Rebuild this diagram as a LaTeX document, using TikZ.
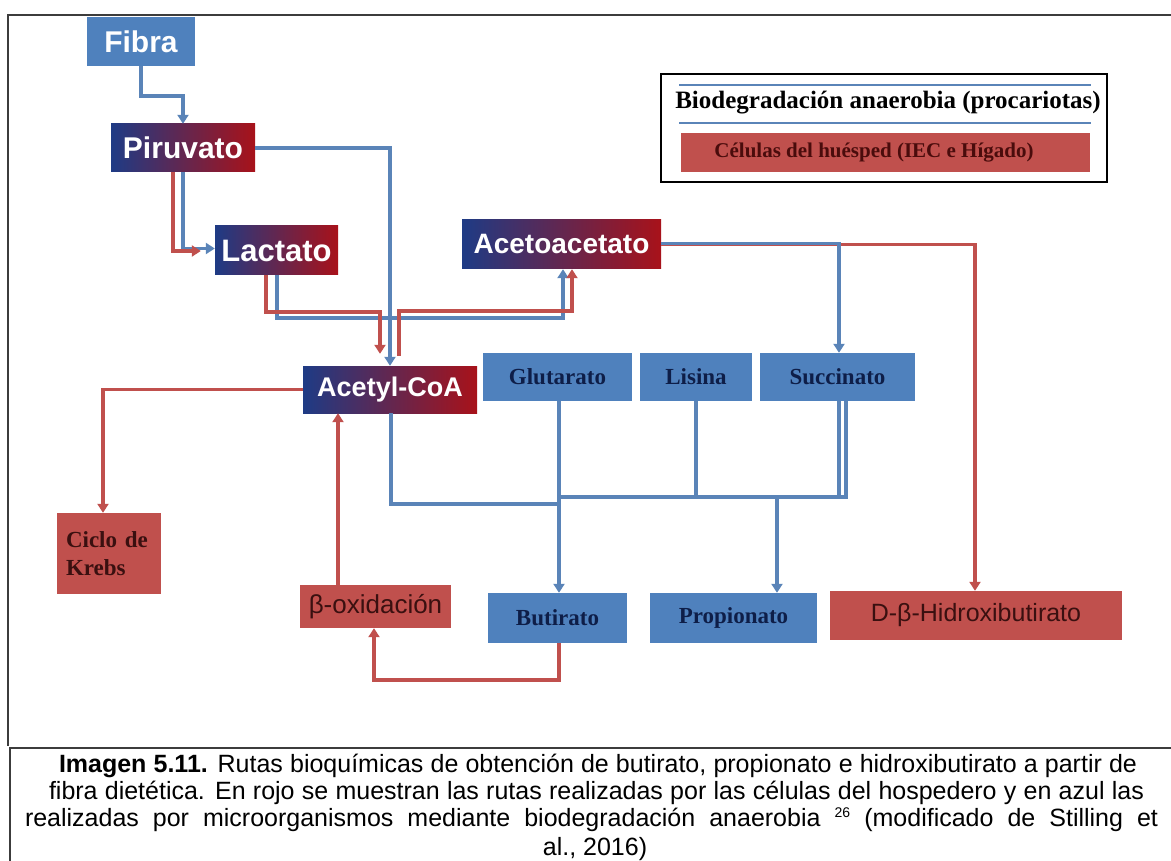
\documentclass[tikz,border=0pt]{standalone}
\usepackage{fontspec}
\setmainfont{Liberation Serif}
\newfontfamily\arialf{Liberation Sans}
\usetikzlibrary{arrows.meta}
\definecolor{boxblue}{HTML}{4F81BD}
\definecolor{boxred}{HTML}{C0504D}
\definecolor{lineblue}{HTML}{5A84B8}
\definecolor{linered}{HTML}{C0504D}
\definecolor{gradL}{HTML}{1E3B85}
\definecolor{gradR}{HTML}{A8121A}
\definecolor{navytext}{HTML}{0E1E48}
\definecolor{redtext}{HTML}{3A1010}
\definecolor{legredtext}{HTML}{4A0C0C}
\definecolor{framegray}{HTML}{3C3C3C}
\newcommand{\fsz}[1]{\fontsize{#1}{#1}\selectfont}
\begin{document}
\begin{tikzpicture}[x=1pt,y=-1pt,
  fbox/.style={fill=boxblue, text=white, font=\arialf\bfseries\fsz{30}, inner sep=0pt},
  gbox/.style={left color=gradL, right color=gradR, text=white, inner sep=0pt},
  bbox/.style={fill=boxblue, text=navytext, font=\bfseries\fsz{23}, inner sep=0pt},
  rbox/.style={fill=boxred, inner sep=0pt},
  bl/.style={draw=lineblue, line width=3.6pt},
  rd/.style={draw=linered, line width=3.6pt},
  arr/.style={-{Triangle[length=9pt,width=11pt]}},
  framel/.style={draw=framegray, line width=1.5pt},
  capline/.style={anchor=base, inner sep=0pt, font=\arialf\fsz{25}}
]
\useasboundingbox (0,0) rectangle (1171,861);

% frames
\draw[framel] (1171,15) -- (8,15) -- (8,746);
\draw[framel] (1171,748) -- (10,748) -- (10,861);

% nodes
\node[fbox, minimum width=108pt, minimum height=49pt] (fib) at (141,41.5) {Fibra};
\node[gbox, font=\arialf\bfseries\fsz{30}, minimum width=144pt, minimum height=48pt] (piru) at (183,148) {Piruvato};
\node[gbox, font=\arialf\bfseries\fsz{31}, minimum width=123pt, minimum height=49pt] (lact) at (276.5,250.5) {Lactato};
\node[gbox, font=\arialf\bfseries\fsz{28}, minimum width=199pt, minimum height=49pt] (acac) at (561.5,244.5) {Acetoacetato};
\node[gbox, font=\arialf\bfseries\fsz{27}, minimum width=174pt, minimum height=47pt] (acet) at (390,389.5) {Acetyl-CoA};
\node[bbox, minimum width=149pt, minimum height=48pt] (glut) at (557.5,377) {Glutarato};
\node[bbox, minimum width=112pt, minimum height=48pt] (lis) at (696,377) {Lisina};
\node[bbox, minimum width=155pt, minimum height=48pt] (succ) at (837.5,377) {Succinato};
\node[rbox, text width=86pt, align=left, font=\bfseries\fontsize{23}{28}\selectfont, text=redtext, minimum width=104pt, minimum height=81pt] (krebs) at (109,553.5) {Ciclo de\\Krebs};
\node[rbox, font=\arialf\fsz{26}, text=redtext, minimum width=151pt, minimum height=43pt] (box) at (375.5,606.5) {β-oxidación};
\node[bbox, minimum width=139pt, minimum height=50pt] (but) at (557.5,618) {Butirato};
\node[bbox, minimum width=167pt, minimum height=50pt] (prop) at (733.5,618) {Propionato};
\node[rbox, font=\arialf\fsz{25}, text=redtext, minimum width=292pt, minimum height=49pt] (dbh) at (976,615.5) {D-β-Hidroxibutirato};

% legend
\node[draw=black, line width=2pt, minimum width=446pt, minimum height=108pt, inner sep=0pt] (leg) at (884,128) {};
\draw[lineblue, line width=2.2pt] (679,85) -- (1091,85);
\draw[lineblue, line width=2.2pt] (679,123) -- (1091,123);
\node[font=\bfseries\fsz{25}, inner sep=0pt] (legt) at (888,103) {Biodegradación anaerobia (procariotas)};
\node[rbox, minimum width=409pt, minimum height=39pt, font=\bfseries\fsz{21}, text=legredtext] (legr) at (885.5,152.5) {\hspace*{-23pt}Células del huésped (IEC e Hígado)};

% upper connectors
\draw[bl, arr] (fib.south) -- ++(0,30) -| (piru.north);
\draw[bl, arr] (piru.east) -| (acet.north);
\draw[bl, arr] (piru.south) |- ([yshift=2pt]lact.west);
\draw[rd, arr, shorten >=14pt] ([xshift=-10pt]piru.south) |- ([yshift=-0.5pt]lact.west);
\draw[bl, arr] ([xshift=0.5pt]lact.south) |- (563,318) -- ([xshift=1.5pt]acac.south);
\draw[rd, arr, shorten >=12pt] ([xshift=-10.5pt]lact.south) |- (380,312) -- ([xshift=-10pt]acet.north);
\draw[rd, arr, shorten <=10pt] ([xshift=9pt]acet.north) |- (572,311) -- ([xshift=10.5pt]acac.south);
\draw[rd, arr] (acac.east) -| ([xshift=-1pt]dbh.north);
\draw[bl, arr] ([yshift=1pt]acac.east) -| ([xshift=1.5pt]succ.north);

% left / lower red connectors
\draw[rd, arr] (acet.west) -| ([xshift=-6pt]krebs.north);
\draw[rd, arr] ([xshift=-37.5pt]box.north) -- ([xshift=-52pt]acet.south);
\draw[rd, arr] ([xshift=1.5pt]but.south) -- ++(0,37) -| ([xshift=-1.5pt]box.south);

% lower blue connectors
\draw[bl] ([xshift=1pt]acet.south) |- (559,504);
\draw[bl, arr] ([xshift=1.5pt]glut.south) -- ([xshift=1.5pt]but.north);
\draw[bl] (lis.south) |- (559,497);
\draw[bl] ([xshift=8.5pt]succ.south) |- (559,497);
\draw[bl] ([xshift=1.5pt]succ.south) -- ++(0,96);
\coordinate (jprop) at (777,497);
\draw[bl, arr] (jprop) -- ([xshift=43.5pt]prop.north);

% caption
\node[capline] (cap1) at (598,772) {\makebox[1078pt][s]{\textbf{Imagen 5.11.} Rutas bioquímicas de obtención de butirato, propionato e hidroxibutirato a partir de}};
\node[capline] (cap2) at (596.5,799) {\makebox[1095pt][s]{fibra dietética. En rojo se muestran las rutas realizadas por las células del hospedero y en azul las}};
\node[capline] (cap3) at (591.5,826) {\makebox[1133pt][s]{realizadas por microorganismos mediante biodegradación anaerobia \raisebox{9pt}{\fsz{14}26} (modificado de Stilling et}};
\node[capline] (cap4) at (595,855) {al., 2016)};
\end{tikzpicture}
\end{document}
